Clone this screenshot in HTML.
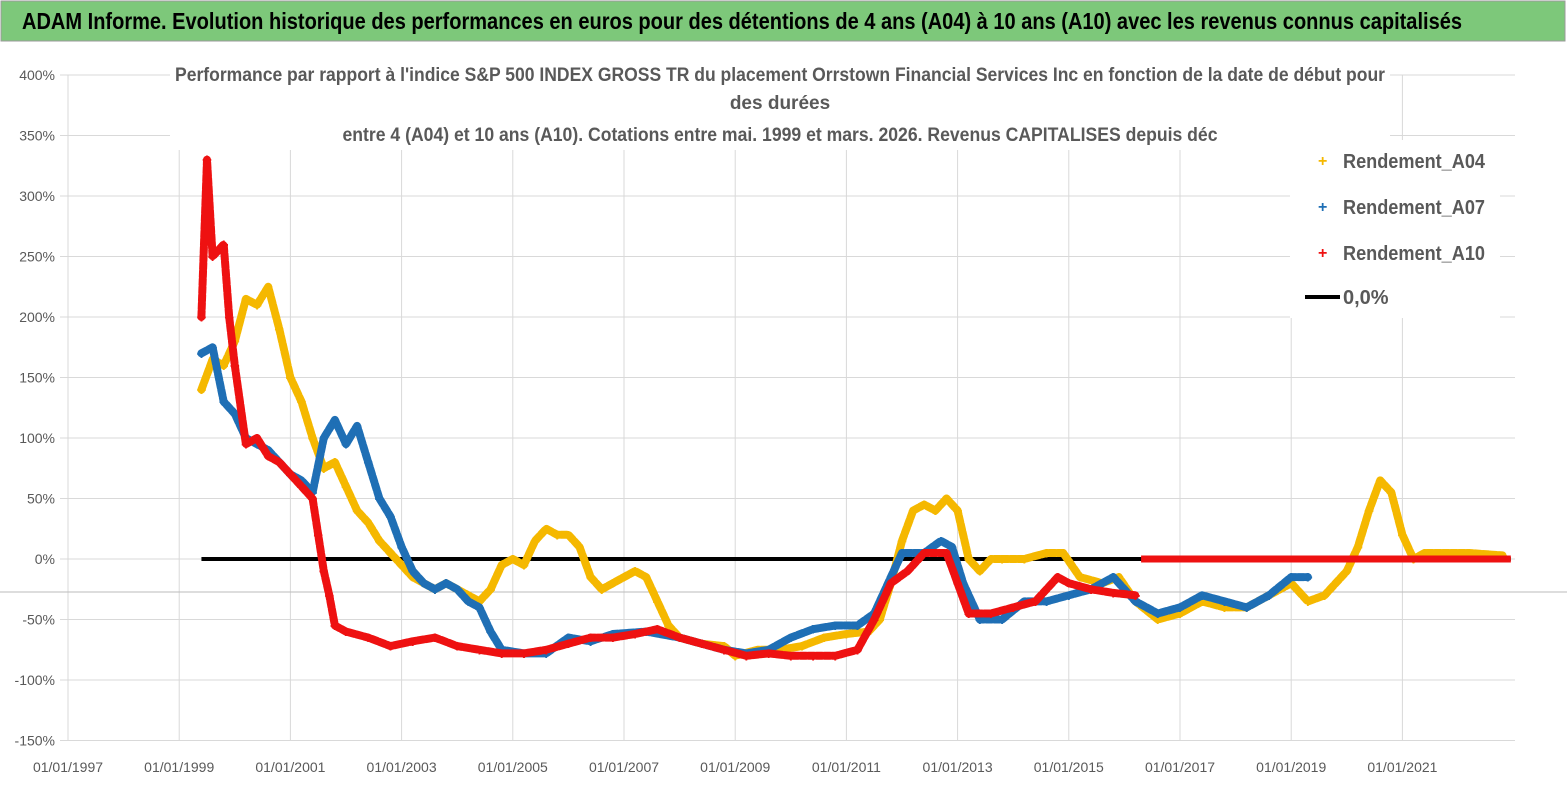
<!DOCTYPE html>
<html><head><meta charset="utf-8"><style>
html,body{margin:0;padding:0;background:#fff;}
svg{display:block;font-family:"Liberation Sans Narrow","Liberation Sans",sans-serif;}
</style></head><body>
<svg id="chart" width="1567" height="790" viewBox="0 0 1567 790">
<rect x="0" y="0" width="1567" height="790" fill="#fff"/>
<rect x="1" y="1" width="1564" height="40" fill="#7dc87a" stroke="#9a9a9a"/>
<text x="22" y="29" font-size="23" font-weight="bold" fill="#000" textLength="1440" lengthAdjust="spacingAndGlyphs">ADAM Informe. Evolution historique des performances en euros pour des détentions de 4 ans (A04) à 10 ans (A10) avec les revenus connus capitalisés</text>
<g id="grid"></g>
<g id="ylab"></g>
<g id="xlab"></g>
<line x1="0" y1="592" x2="1567" y2="592" stroke="#bbb" stroke-width="1"/>
<rect x="170" y="60" width="1220" height="90" fill="#fff"/>
<text x="780" y="81" text-anchor="middle" font-size="19" font-weight="bold" fill="#595959" textLength="1210" lengthAdjust="spacingAndGlyphs">Performance par rapport à l'indice S&amp;P 500 INDEX GROSS TR  du placement Orrstown Financial Services Inc en fonction de la date de début pour</text>
<text x="780" y="109" text-anchor="middle" font-size="19" font-weight="bold" fill="#595959">des durées</text>
<text x="780" y="141" text-anchor="middle" font-size="19" font-weight="bold" fill="#595959" textLength="875" lengthAdjust="spacingAndGlyphs">entre 4 (A04) et 10 ans (A10). Cotations entre mai. 1999 et mars. 2026. Revenus CAPITALISES depuis déc</text>
<g id="series"></g>
<rect x="1290" y="140" width="210" height="178" fill="#fff"/>
<g font-size="20" font-weight="bold" fill="#595959">
<g><text x="1318" y="166" fill="#f5b800" font-size="16">+</text><text x="1343" y="168" textLength="142" lengthAdjust="spacingAndGlyphs">Rendement_A04</text></g>
<g><text x="1318" y="212" fill="#1f6fb5" font-size="16">+</text><text x="1343" y="214" textLength="142" lengthAdjust="spacingAndGlyphs">Rendement_A07</text></g>
<g><text x="1318" y="258" fill="#ee1111" font-size="16">+</text><text x="1343" y="260" textLength="142" lengthAdjust="spacingAndGlyphs">Rendement_A10</text></g>
<g><line x1="1305" y1="297" x2="1340" y2="297" stroke="#000" stroke-width="4"/><text x="1343" y="304">0,0%</text></g>
</g>
</svg>
<script>
const yTicks=[400,350,300,250,200,150,100,50,0,-50,-100,-150];
const xTickYears=[1997,1999,2001,2003,2005,2007,2009,2011,2013,2015,2017,2019,2021];
const a04T=[1999.4,1999.6,1999.8,2000.0,2000.2,2000.4,2000.6,2000.8,2001.0,2001.2,2001.4,2001.6,2001.8,2002.0,2002.2,2002.4,2002.6,2002.8,2003.0,2003.2,2003.4,2003.6,2003.8,2004.0,2004.2,2004.4,2004.6,2004.8,2005.0,2005.2,2005.4,2005.6,2005.8,2006.0,2006.2,2006.4,2006.6,2006.8,2007.0,2007.2,2007.4,2007.6,2007.8,2008.0,2008.4,2008.8,2009.0,2009.4,2009.8,2010.2,2010.6,2011.0,2011.4,2011.6,2011.8,2012.0,2012.2,2012.4,2012.6,2012.8,2013.0,2013.2,2013.4,2013.6,2013.8,2014.2,2014.6,2014.9,2015.2,2015.6,2015.9,2016.2,2016.6,2017.0,2017.4,2017.8,2018.2,2018.6,2019.0,2019.3,2019.6,2020.0,2020.2,2020.4,2020.6,2020.8,2021.0,2021.2,2021.4,2021.8,2022.2,2022.8];
const a04V=[140,165,160,180,215,210,225,190,150,130,100,75,80,60,40,30,15,5,-5,-15,-20,-25,-20,-25,-30,-35,-25,-5,0,-5,15,25,20,20,10,-15,-25,-20,-15,-10,-15,-35,-55,-65,-70,-72,-80,-75,-75,-72,-65,-62,-60,-50,-20,15,40,45,40,50,40,0,-10,0,0,0,5,5,-15,-20,-15,-35,-50,-45,-35,-40,-40,-30,-20,-35,-30,-10,10,40,65,55,20,0,5,5,5,3];
const a07T=[1999.4,1999.6,1999.8,2000.0,2000.2,2000.4,2000.6,2000.8,2001.0,2001.2,2001.4,2001.6,2001.8,2002.0,2002.2,2002.4,2002.6,2002.8,2003.0,2003.2,2003.4,2003.6,2003.8,2004.0,2004.2,2004.4,2004.6,2004.8,2005.2,2005.6,2006.0,2006.4,2006.8,2007.4,2008.0,2008.4,2008.8,2009.2,2009.6,2010.0,2010.4,2010.8,2011.2,2011.5,2011.8,2012.0,2012.4,2012.7,2012.9,2013.1,2013.4,2013.8,2014.2,2014.6,2015.0,2015.4,2015.8,2016.2,2016.6,2017.0,2017.4,2017.8,2018.2,2018.6,2019.0,2019.3];
const a07V=[170,175,130,120,100,95,90,80,70,65,55,100,115,95,110,80,50,35,10,-10,-20,-25,-20,-25,-35,-40,-60,-75,-78,-78,-65,-68,-62,-60,-65,-70,-75,-78,-75,-65,-58,-55,-55,-45,-15,5,5,15,10,-20,-50,-50,-35,-35,-30,-25,-15,-35,-45,-40,-30,-35,-40,-30,-15,-15];
const a10T=[1999.4,1999.5,1999.6,1999.8,1999.9,2000.0,2000.2,2000.4,2000.6,2000.8,2001.0,2001.2,2001.4,2001.5,2001.6,2001.7,2001.8,2002.0,2002.4,2002.8,2003.2,2003.6,2004.0,2004.4,2004.8,2005.2,2005.6,2006.0,2006.4,2006.8,2007.2,2007.6,2008.0,2008.4,2008.8,2009.2,2009.6,2010.0,2010.4,2010.8,2011.2,2011.5,2011.8,2012.1,2012.4,2012.8,2013.0,2013.2,2013.6,2014.0,2014.4,2014.8,2015.0,2015.4,2015.8,2016.2];
const a10V=[200,330,250,260,200,160,95,100,85,80,70,60,50,20,-10,-30,-55,-60,-65,-72,-68,-65,-72,-75,-78,-78,-75,-70,-65,-65,-62,-58,-65,-70,-75,-80,-78,-80,-80,-80,-75,-50,-20,-10,5,5,-20,-45,-45,-40,-35,-15,-20,-25,-28,-30];
const zeroRun=[2016.3,2022.95];
const zeroLine=[1999.4,2022.95];

const NS="http://www.w3.org/2000/svg";
const X=t=>68+(t-1997)*55.6;
const Y=v=>559-v*1.21;
function mk(tag,attrs,parent){const e=document.createElementNS(NS,tag);for(const k in attrs)e.setAttribute(k,attrs[k]);parent.appendChild(e);return e;}
const grid=document.getElementById('grid'),ylab=document.getElementById('ylab'),xlab=document.getElementById('xlab'),ser=document.getElementById('series');
yTicks.forEach(v=>{
  const l=mk('line',{x1:60,x2:1515,y1:Y(v),y2:Y(v),stroke:'#d9d9d9','stroke-width':1},grid);
  
  
  const t=mk('text',{x:55,y:Y(v)+5,'text-anchor':'end','font-size':14,fill:'#595959'},ylab);
  t.textContent=v+'%';
  
  
});
xTickYears.forEach(yr=>{
  const l=mk('line',{x1:X(yr),x2:X(yr),y1:Y(400),y2:Y(-150),stroke:'#d9d9d9','stroke-width':1},grid);
  
  
  const t=mk('text',{x:X(yr),y:772,'text-anchor':'middle','font-size':14,fill:'#595959'},xlab);
  t.textContent='01/01/'+yr;
  
  
});
const zl=mk('line',{x1:X(zeroLine[0]),x2:X(zeroLine[1]),y1:Y(0),y2:Y(0),stroke:'#000','stroke-width':4},ser);


function drawSeries(T,V,color,name){
  const g=mk('g',{},ser);
  
  
  const pts=T.map((t,i)=>X(t).toFixed(1)+','+Y(V[i]).toFixed(1)).join(' ');
  const pl=mk('polyline',{points:pts,fill:'none',stroke:color,'stroke-width':8,'stroke-linejoin':'round','stroke-linecap':'round','stroke-dasharray':'6 2'},g);
  
  
  T.forEach((t,i)=>{
    const m=mk('text',{x:X(t),y:Y(V[i])+6,'text-anchor':'middle','font-size':17,'font-weight':'bold',fill:color},g);
    m.textContent='+';
    
    
  });
}
drawSeries(a04T,a04V,'#f5b800','series-a04');
drawSeries(a07T,a07V,'#1f6fb5','series-a07');
drawSeries(a10T,a10V,'#ee1111','series-a10');
const zr=mk('line',{x1:X(zeroRun[0]),x2:X(zeroRun[1]),y1:Y(0),y2:Y(0),stroke:'#ee1111','stroke-width':7},ser);


</script>
</body></html>
